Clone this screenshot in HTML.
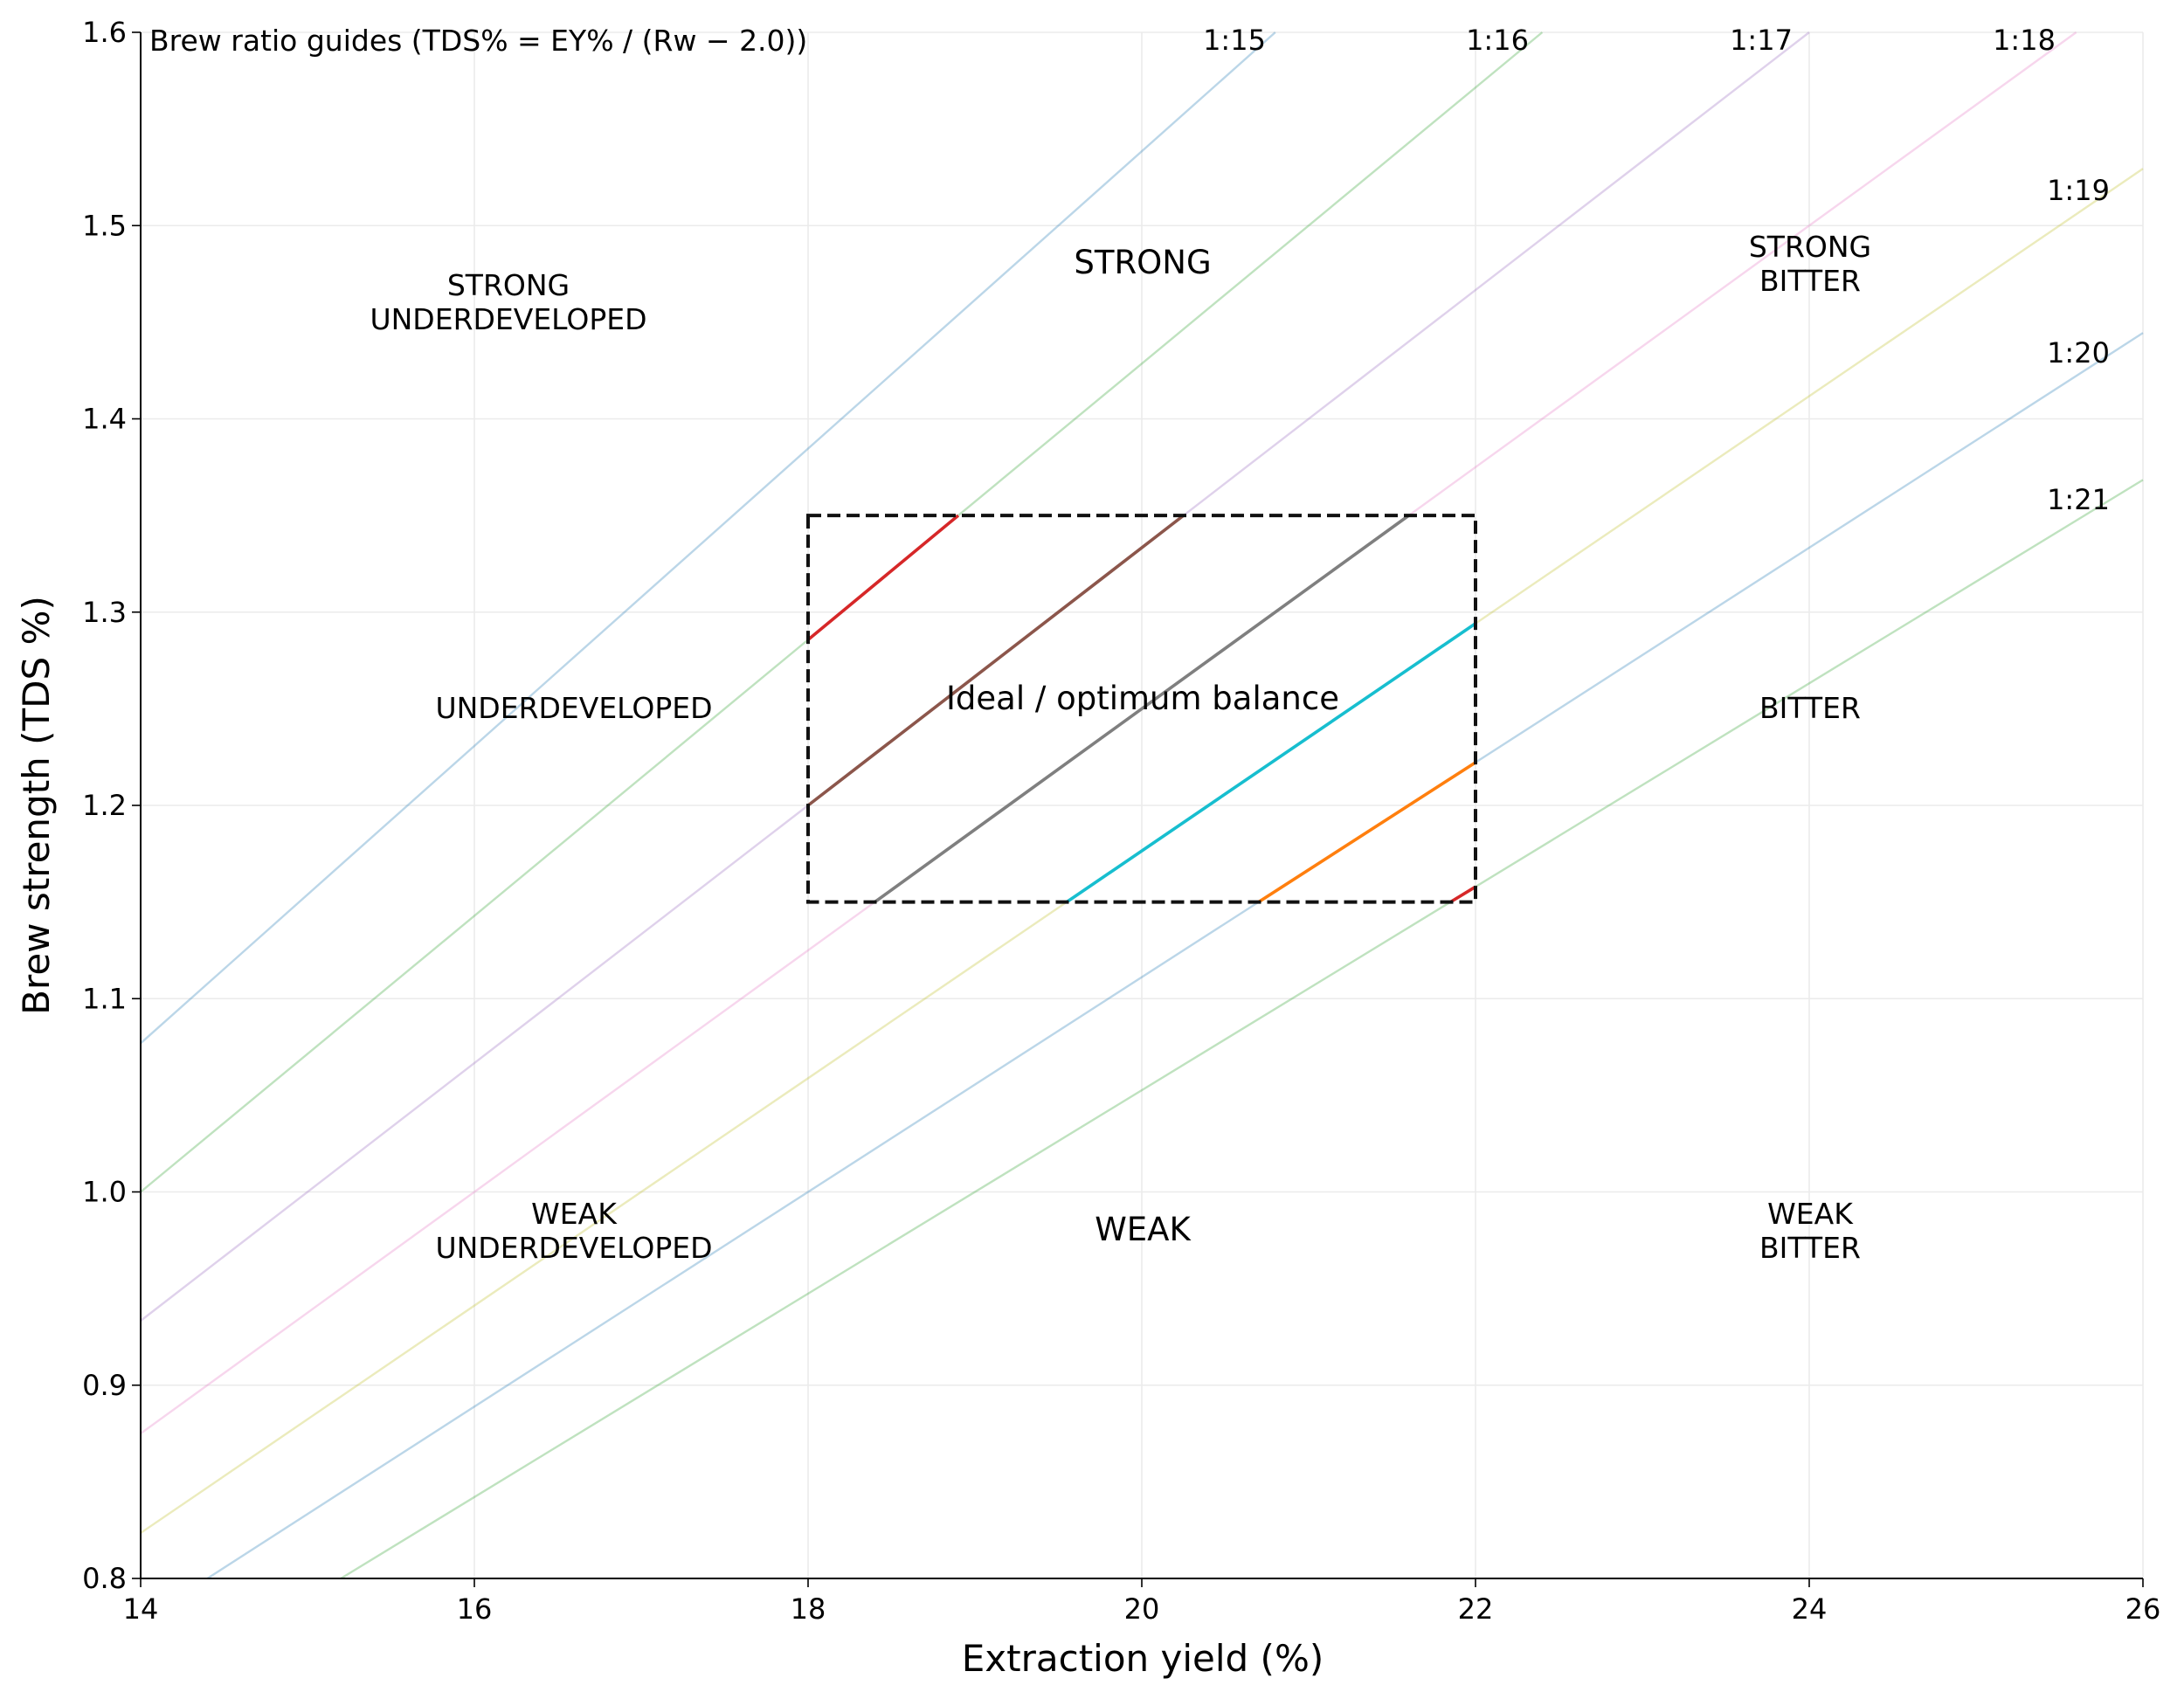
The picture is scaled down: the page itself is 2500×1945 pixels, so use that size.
<!DOCTYPE html>
<html><head><meta charset="utf-8">
<style>
html,body{margin:0;padding:0;background:#fff;}
svg{display:block;font-family:"DejaVu Sans","Liberation Sans",sans-serif;}
</style></head>
<body>
<svg id="chart" width="2500" height="1945" viewBox="0 0 2500 1945" xmlns="http://www.w3.org/2000/svg">
<rect width="2500" height="1945" fill="#fff"/>
<g id="grid"></g>
<g id="guides"></g>
<g id="inbox"></g>
<g id="box"></g>
<g id="axes"></g>
<g id="labels"></g>
</svg>
<script>
const ratios = [15,16,17,18,19,20,21];
const ratioLabels = ["1:15","1:16","1:17","1:18","1:19","1:20","1:21"];
const guideColors = ["#1f77b4","#2ca02c","#9467bd","#e377c2","#bcbd22","#1f77b4","#2ca02c"];
const boxColors = ["#d62728","#d62728","#8c564b","#7f7f7f","#17becf","#ff7f0e","#d62728"];
const xTicks = [14,16,18,20,22,24,26];
const yTicks = [0.8,0.9,1.0,1.1,1.2,1.3,1.4,1.5,1.6];
const idealBox = {x0:18,x1:22,y0:1.15,y1:1.35};
const retained = 2.0;

const X0=161,X1=2453,Y0=1807,Y1=37;
const xMin=14,xMax=26,yMin=0.8,yMax=1.6;
const sx=v=>X0+(v-xMin)/(xMax-xMin)*(X1-X0);
const sy=v=>Y0-(v-yMin)/(yMax-yMin)*(Y0-Y1);
const NS="http://www.w3.org/2000/svg";
function mk(tag,attrs,parent,text){const e=document.createElementNS(NS,tag);for(const k in attrs)e.setAttribute(k,attrs[k]);if(text!==undefined)e.textContent=text;parent.appendChild(e);return e;}
const G=id=>document.getElementById(id);

xTicks.forEach(t=>{const l=mk('line',{x1:sx(t),x2:sx(t),y1:Y0,y2:Y1,stroke:'#ebebeb','stroke-width':1.6},G('grid'));

});
yTicks.forEach(t=>{const l=mk('line',{x1:X0,x2:X1,y1:sy(t),y2:sy(t),stroke:'#ebebeb','stroke-width':1.6},G('grid'));

});

function clipSeg(k,a,b,c,d){
  let lo=Math.max(a,c*k), hi=Math.min(b,d*k);
  return lo<hi?[lo,hi]:null;
}
ratios.forEach((r,i)=>{
  const k=r-retained;
  const s=clipSeg(k,xMin,xMax,yMin,yMax);
  if(s){const l=mk('line',{x1:sx(s[0]),y1:sy(s[0]/k),x2:sx(s[1]),y2:sy(s[1]/k),stroke:guideColors[i],'stroke-opacity':0.3,'stroke-width':2.4},G('guides'));
  
  }
  const b=clipSeg(k,idealBox.x0,idealBox.x1,idealBox.y0,idealBox.y1);
  if(b){const l=mk('line',{x1:sx(b[0]),y1:sy(b[0]/k),x2:sx(b[1]),y2:sy(b[1]/k),stroke:boxColors[i],'stroke-width':3.6},G('inbox'));
  
  }
});

const bx=mk('rect',{x:sx(idealBox.x0),y:sy(idealBox.y1),width:sx(idealBox.x1)-sx(idealBox.x0),height:sy(idealBox.y0)-sy(idealBox.y1),fill:'none',stroke:'#111','stroke-width':4,'stroke-dasharray':'15,7'},G('box'));



const ax=G('axes');
mk('line',{x1:X0,x2:X0,y1:Y0+1,y2:Y1,stroke:'#000','stroke-width':2},ax);
mk('line',{x1:X0-1,x2:X1,y1:Y0,y2:Y0,stroke:'#000','stroke-width':2},ax);
xTicks.forEach(t=>{
  mk('line',{x1:sx(t),x2:sx(t),y1:Y0,y2:Y0+10,stroke:'#000','stroke-width':1.6},ax);
  const tx=mk('text',{x:sx(t),y:Y0+46,'font-size':32,'text-anchor':'middle',fill:'#000'},ax,String(t));
  
  
});
yTicks.forEach(t=>{
  mk('line',{x1:X0-10,x2:X0,y1:sy(t),y2:sy(t),stroke:'#000','stroke-width':1.6},ax);
  const tx=mk('text',{x:X0-16,y:sy(t)+11,'font-size':32,'text-anchor':'end',fill:'#000'},ax,t.toFixed(1));
  
  
});
</script>
<script>
const L=document.getElementById('labels');
function txt(x,y,s,size,name,anchor){const e=document.createElementNS("http://www.w3.org/2000/svg",'text');
e.setAttribute('x',x);e.setAttribute('y',y);e.setAttribute('font-size',size);e.setAttribute('text-anchor',anchor||'middle');e.setAttribute('fill','#000');e.textContent=s;


L.appendChild(e);return e;}
txt(1308,1913,'Extraction yield (%)',42,'x-axis-title');
const yt=txt(42,922,'Brew strength (TDS %)',42,'y-axis-title');
yt.setAttribute('transform','rotate(-90 42 922) translate(0 14)');
txt(171,58,'Brew ratio guides (TDS% = EY% / (Rw \u2212 2.0))',33,'guide-note','start');
const rlx=[1413,1714,2016,2317,2379,2379,2379];
const rly=[57,57,57,57,229,415,583];
ratioLabels.forEach((s,i)=>txt(rlx[i],rly[i],s,32,'ratio-label-'+s.replace(':','-')));
txt(582,338,'STRONG',33,'region-strong-underdeveloped');
txt(582,377,'UNDERDEVELOPED',33,'region-strong-underdeveloped-2');
txt(1308,313,'STRONG',37,'region-strong');
txt(2072,294,'STRONG',33,'region-strong-bitter');
txt(2072,333,'BITTER',33,'region-strong-bitter-2');
txt(657,822,'UNDERDEVELOPED',33,'region-underdeveloped');
txt(1308,812,'Ideal / optimum balance',37,'region-ideal');
txt(2072,822,'BITTER',33,'region-bitter');
txt(657,1401,'WEAK',33,'region-weak-underdeveloped');
txt(657,1440,'UNDERDEVELOPED',33,'region-weak-underdeveloped-2');
txt(1308,1420,'WEAK',37,'region-weak');
txt(2072,1401,'WEAK',33,'region-weak-bitter');
txt(2072,1440,'BITTER',33,'region-weak-bitter-2');
</script>
</body></html>
